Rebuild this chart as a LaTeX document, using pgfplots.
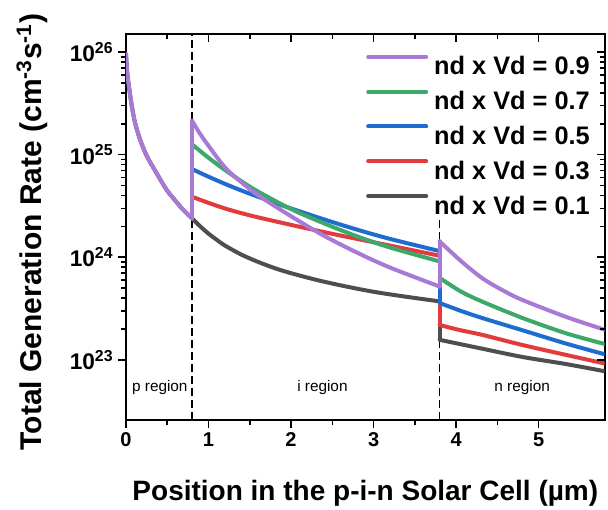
\documentclass[border=0pt]{standalone}
\usepackage{fontspec}
\setmainfont{Liberation Sans}
\usepackage{pgfplots}
\pgfplotsset{compat=1.18}
\definecolor{cpurple}{RGB}{168,122,214}
\definecolor{cgreen}{RGB}{60,168,106}
\definecolor{cblue}{RGB}{30,108,208}
\definecolor{cred}{RGB}{226,59,62}
\definecolor{cgray}{RGB}{78,78,78}
\begin{document}
\begin{tikzpicture}
\begin{axis}[
  scale only axis, width=359pt, height=289.5pt,
  xmin=0, xmax=5.8, ymode=log, ymin=2.6e22, ymax=1.5e26,
  axis line style={line width=1.5pt},
  xtick={0,1,2,3,4,5}, minor x tick num=1,
  ytick={1e23,1e24,1e25,1e26},
  yticklabels={10\textsuperscript{23},10\textsuperscript{24},10\textsuperscript{25},10\textsuperscript{26}},
  tick align=outside, tick pos=left,
  major tick length=6pt, minor tick length=3.5pt,
  every tick/.style={line width=1.2pt, black},
  /pgf/number format/assume math mode=true,
  xticklabel style={font=\bfseries\fontsize{15}{17}\selectfont},
  yticklabel style={font=\bfseries\fontsize{17}{20}\selectfont},
  xlabel={Position in the p-i-n Solar Cell (µm)},
  ylabel={Total Generation Rate (cm\textsuperscript{-3}s\textsuperscript{-1})},
  xlabel style={font=\bfseries\fontsize{21}{24}\selectfont},
  ylabel style={font=\bfseries\fontsize{22.5}{26}\selectfont, at={(ticklabel cs:0.487)}},
  xlabel shift=18pt, ylabel shift=10pt,
  reverse legend,
  legend image code/.code={\draw[#1] (0pt,6.8pt) -- (43.5pt,6.8pt); \path (47pt,0pt);},
  legend style={at={(rel axis cs:0.975,0.95)}, anchor=north east, draw=none, fill=white,
    inner sep=1pt, row sep=10pt,
    font=\bfseries\fontsize{19}{22}\selectfont,
    nodes={inner sep=1pt, text height=13.6pt, text depth=0pt}},
  legend cell align=left,
  every axis plot/.append style={line width=3pt, line join=round, line cap=round},
]
\addplot[black, line width=1.2pt, line cap=butt, dash pattern=on 6pt off 3pt, forget plot] coordinates {(0.8,2.6e22) (0.8,1.5e26)};
\addplot[black, line width=1.2pt, line cap=butt, dash pattern=on 6pt off 3pt, forget plot] coordinates {(3.8,2.6e22) (3.8,3.2e24)};

% ---------- gray 0.1
\addplot[cgray, smooth, forget plot] coordinates {
(0,9.55e25) (0.01,7.08e25) (0.02,5.75e25) (0.04,4.37e25) (0.07,2.99e25) (0.11,2.04e25)
(0.17,1.41e25) (0.25,9.77e24) (0.37,6.61e24) (0.49,4.57e24) (0.59,3.63e24) (0.69,2.92e24) (0.8,2.40e24)};
\addplot[cgray, smooth] coordinates {
(0.8,2.40e24) (0.9,2.00e24) (1.0,1.70e24) (1.1,1.48e24) (1.2,1.30e24) (1.4,1.06e24) (1.6,9.02e23)
(1.8,7.85e23) (2.0,7.00e23) (2.33,5.96e23) (2.7,5.13e23) (3.03,4.57e23) (3.4,4.12e23) (3.8,3.72e23)};
\addlegendentry{nd x Vd = 0.1}
\addplot[cgray, forget plot] coordinates {(3.8,3.72e23) (3.8,1.57e23)};
\addplot[cgray, smooth, forget plot] coordinates {
(3.8,1.57e23) (4.31,1.29e23) (4.8,1.07e23) (5.33,9.12e22) (5.8,7.76e22)};
% ---------- red 0.3
\addplot[cred, forget plot] coordinates {(0.8,2.40e24) (0.8,3.89e24)};
\addplot[cred, smooth] coordinates {
(0.8,3.89e24) (1.0,3.39e24) (1.2,2.99e24) (1.4,2.69e24) (1.6,2.45e24) (2.0,2.07e24) (2.4,1.76e24)
(2.8,1.51e24) (3.2,1.30e24) (3.8,1.035e24)};
\addlegendentry{nd x Vd = 0.3}
\addplot[cred, forget plot] coordinates {(3.8,1.035e24) (3.8,2.19e23)};
\addplot[cred, smooth, forget plot] coordinates {
(3.8,2.19e23) (4.05,1.95e23) (4.31,1.76e23) (4.8,1.40e23) (5.33,1.12e23) (5.8,9.23e22)};
% ---------- blue 0.5
\addplot[cblue, forget plot] coordinates {(0.8,2.40e24) (0.8,7.24e24)};
\addplot[cblue, smooth] coordinates {
(0.8,7.24e24) (1.0,6.10e24) (1.2,5.19e24) (1.4,4.47e24) (1.6,3.89e24) (2.0,2.99e24) (2.4,2.34e24)
(2.8,1.86e24) (3.2,1.51e24) (3.8,1.15e24)};
\addlegendentry{nd x Vd = 0.5}
\addplot[cblue, forget plot] coordinates {(3.8,1.15e24) (3.8,3.59e23)};
\addplot[cblue, smooth, forget plot] coordinates {
(3.8,3.59e23) (4.05,3.02e23) (4.31,2.57e23) (4.8,1.95e23) (5.33,1.445e23) (5.8,1.135e23)};
% ---------- green 0.7
\addplot[cgreen, forget plot] coordinates {(0.8,2.40e24) (0.8,1.26e25)};
\addplot[cgreen, smooth] coordinates {
(0.8,1.26e25) (1.0,9.33e24) (1.2,7.08e24) (1.4,5.50e24) (1.6,4.37e24) (2.0,2.95e24) (2.4,2.14e24)
(2.8,1.60e24) (3.2,1.245e24) (3.8,9.12e23)};
\addlegendentry{nd x Vd = 0.7}
\addplot[cgreen, forget plot] coordinates {(3.8,9.12e23) (3.8,6.31e23)};
\addplot[cgreen, smooth, forget plot] coordinates {
(3.8,6.31e23) (4.05,4.68e23) (4.31,3.72e23) (4.8,2.57e23) (5.33,1.82e23) (5.8,1.43e23)};
% ---------- purple 0.9
\addplot[cpurple, smooth, forget plot] coordinates {
(0,9.55e25) (0.01,7.08e25) (0.02,5.75e25) (0.04,4.37e25) (0.07,2.99e25) (0.11,2.04e25)
(0.17,1.41e25) (0.25,9.77e24) (0.37,6.61e24) (0.49,4.57e24) (0.59,3.63e24) (0.69,2.92e24) (0.8,2.40e24)};
\addplot[cpurple, forget plot] coordinates {(0.8,2.40e24) (0.8,2.14e25)};
\addplot[cpurple, smooth] coordinates {
(0.8,2.14e25) (0.9,1.585e25) (1.0,1.22e25) (1.2,7.50e24) (1.4,5.37e24) (1.6,4.03e24) (2.0,2.51e24)
(2.4,1.62e24) (2.8,1.11e24) (3.2,7.94e23) (3.8,5.19e23)};
\addlegendentry{nd x Vd = 0.9}
\addplot[cpurple, forget plot] coordinates {(3.8,5.19e23) (3.8,1.43e24)};
\addplot[cpurple, smooth, forget plot] coordinates {
(3.8,1.43e24) (4.05,9.33e23) (4.31,6.31e23) (4.55,4.84e23) (4.8,3.85e23) (5.33,2.63e23) (5.8,1.97e23)};

\node[font=\fontsize{11.5}{13}\selectfont] at (axis cs:0.41,5.44e22) {p region};
\node[font=\fontsize{11.5}{13}\selectfont] at (axis cs:2.38,5.44e22) {i region};
\node[font=\fontsize{11.5}{13}\selectfont] at (axis cs:4.80,5.44e22) {n region};
\end{axis}
\begin{axis}[
  scale only axis, width=359pt, height=289.5pt,
  xmin=0, xmax=5.8, ymode=log, ymin=2.6e22, ymax=1.5e26,
  axis line style={draw=none},
  xtick={0,1,2,3,4,5}, minor x tick num=1,
  ytick={1e23,1e24,1e25,1e26},
  xticklabels={}, yticklabels={},
  tick align=inside, tick pos=right,
  major tick length=6pt, minor tick length=3.5pt,
  every tick/.style={line width=1.2pt, black},
]
\end{axis}
\pgfresetboundingbox
\path (current axis.south west) ++(-94.5pt,-67.5pt) rectangle ++(456pt,382.5pt);
\end{tikzpicture}
\end{document}
